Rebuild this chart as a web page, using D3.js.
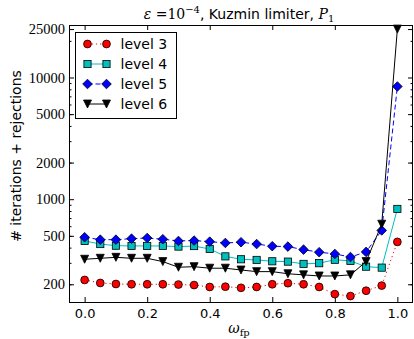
<!DOCTYPE html>
<html>
<head>
<meta charset="utf-8">
<script src="https://cdn.jsdelivr.net/npm/d3@7"></script>
<style>
  body { margin: 0; background: #fff; }
  svg { display: block; }
</style>
</head>
<body>
<svg id="chart" width="414" height="339"></svg>
<script>
// Relaxation parameter values on the x axis
const omega = [0.00, 0.05, 0.10, 0.15, 0.20, 0.25, 0.30, 0.35, 0.40, 0.45, 0.50,
               0.55, 0.60, 0.65, 0.70, 0.75, 0.80, 0.85, 0.90, 0.95, 1.00];

// Iterations + rejections per refinement level
const level3 = [217, 205, 201, 200, 200, 200, 199, 197, 190, 191, 187,
                190, 200, 204, 200, 190, 166, 160, 177, 195, 446];
const level4 = [454, 428, 415, 413, 413, 413, 408, 412, 390, 339, 321,
                317, 309, 307, 294, 298, 318, 311, 279, 274, 832];
const level5 = [487, 465, 465, 474, 480, 469, 454, 457, 448, 437, 443,
                428, 411, 408, 385, 367, 355, 335, 369, 554, 8435];
const level6 = [321, 327, 333, 327, 327, 307, 276, 279, 271, 271, 262,
                254, 254, 244, 239, 234, 234, 239, 307, 623, 25000];

const seriesNames = ["level 3", "level 4", "level 5", "level 6"];
const yTickValues = [200, 500, 1000, 2000, 5000, 10000, 25000];
const xTickValues = [0.0, 0.2, 0.4, 0.6, 0.8, 1.0];

const svg = d3.select("#chart");
const plot = { left: 69, right: 413, top: 25, bottom: 302 };

const x = d3.scaleLinear().domain([-0.05, 1.05]).range([plot.left, plot.right]);
const y = d3.scaleLog().domain([143, 27000]).range([plot.bottom, plot.top]);

// Minor log ticks: 2..9 x 10^k inside the domain
const minorTicks = [];
[100, 1000, 10000].forEach(base => {
  for (let m = 2; m <= 9; m++) {
    const v = m * base;
    if (v >= y.domain()[0] && v <= y.domain()[1]) minorTicks.push(v);
  }
});

const serif = "'DejaVu Serif', 'Liberation Serif', serif";
const sans = "'DejaVu Sans', sans-serif";

// ---- axes (ticks point inward, as in the classic style) ----
function styleAxis(g) {
  g.select(".domain").remove();
  g.selectAll(".tick line").attr("stroke", "#000").attr("stroke-width", 1);
}

svg.append("g")
  .attr("transform", `translate(${plot.left},0)`)
  .call(d3.axisLeft(y).tickValues(yTickValues).tickFormat(d3.format("d"))
    .tickSizeInner(-5).tickSizeOuter(0).tickPadding(4))
  .call(styleAxis)
  .selectAll("text")
  .attr("font-family", "'Liberation Serif', serif")
  .attr("font-size", 14.5)
  .attr("fill", "#000");

svg.append("g")
  .attr("transform", `translate(${plot.left},0)`)
  .call(d3.axisLeft(y).tickValues(minorTicks).tickFormat("")
    .tickSizeInner(-2.5).tickSizeOuter(0))
  .call(styleAxis);

svg.append("g")
  .attr("transform", `translate(${plot.right},0)`)
  .call(d3.axisRight(y).tickValues(yTickValues).tickFormat("")
    .tickSizeInner(-5).tickSizeOuter(0))
  .call(styleAxis);

svg.append("g")
  .attr("transform", `translate(${plot.right},0)`)
  .call(d3.axisRight(y).tickValues(minorTicks).tickFormat("")
    .tickSizeInner(-2.5).tickSizeOuter(0))
  .call(styleAxis);

svg.append("g")
  .attr("transform", `translate(0,${plot.bottom})`)
  .call(d3.axisBottom(x).tickValues(xTickValues).tickFormat(d3.format(".1f"))
    .tickSizeInner(-5).tickSizeOuter(0).tickPadding(7))
  .call(styleAxis)
  .selectAll("text")
  .attr("font-family", sans)
  .attr("font-size", 13)
  .attr("fill", "#000");

svg.append("g")
  .attr("transform", `translate(0,${plot.top})`)
  .call(d3.axisTop(x).tickValues(xTickValues).tickFormat("")
    .tickSizeInner(-5).tickSizeOuter(0))
  .call(styleAxis);

// ---- series ----
const triDown = "M0,4L-4,-4L4,-4Z";
const series = [
  { name: seriesNames[0], values: level3, color: "#ff0000", dash: "1.2,3", marker: "circle" },
  { name: seriesNames[1], values: level4, color: "#00bfbf", dash: null, marker: "square" },
  { name: seriesNames[2], values: level5, color: "#0000ff", dash: "5,3", marker: "diamond" },
  { name: seriesNames[3], values: level6, color: "#000000", dash: null, marker: "triangle" }
];

function drawMarker(g, type, color) {
  if (type === "circle") {
    g.append("circle").attr("r", 3.9);
  } else if (type === "square") {
    g.append("rect").attr("x", -3.6).attr("y", -3.6).attr("width", 7.2).attr("height", 7.2);
  } else if (type === "diamond") {
    g.append("path").attr("d", "M0,-4.8L4.8,0L0,4.8L-4.8,0Z");
  } else {
    g.append("path").attr("d", triDown);
  }
  g.selectAll("*").attr("fill", color).attr("stroke", "#000").attr("stroke-width", 0.8);
}

const line = d3.line().x(d => x(d[0])).y(d => y(d[1]));

series.forEach(s => {
  const pts = omega.map((o, i) => [o, s.values[i]]);
  const g = svg.append("g");
  g.append("path")
    .attr("d", line(pts))
    .attr("fill", "none")
    .attr("stroke", s.color)
    .attr("stroke-width", 1)
    .attr("stroke-dasharray", s.dash);
  pts.forEach(p => {
    const m = g.append("g").attr("transform", `translate(${x(p[0])},${y(p[1])})`);
    drawMarker(m, s.marker, s.color);
  });
});

// ---- frame ----
svg.append("rect")
  .attr("x", plot.left + 0.5).attr("y", plot.top + 0.5)
  .attr("width", plot.right - plot.left - 1).attr("height", plot.bottom - plot.top)
  .attr("fill", "none").attr("stroke", "#000").attr("stroke-width", 1);

// ---- legend ----
const legend = svg.append("g").attr("transform", "translate(75.5,32.5)");
legend.append("rect").attr("width", 101).attr("height", 86)
  .attr("fill", "#fff").attr("stroke", "#000").attr("stroke-width", 1);
series.forEach((s, i) => {
  const cy = 11.5 + i * 20;
  const row = legend.append("g").attr("transform", `translate(0,${cy})`);
  row.append("line").attr("x1", 12).attr("x2", 31)
    .attr("stroke", s.color).attr("stroke-width", 1).attr("stroke-dasharray", s.dash);
  [12, 31].forEach(mx => drawMarker(row.append("g").attr("transform", `translate(${mx},0)`), s.marker, s.color));
  row.append("text").attr("x", 45).attr("y", 5)
    .attr("font-family", sans).attr("font-size", 14).attr("fill", "#000")
    .text(s.name);
});

// ---- title ----
const title = svg.append("text")
  .attr("x", 239).attr("y", 19)
  .attr("text-anchor", "middle")
  .attr("font-size", 14).attr("fill", "#000");
title.append("tspan").attr("font-family", serif).attr("font-style", "italic").text("ε");
title.append("tspan").attr("font-family", serif).text(" =10");
title.append("tspan").attr("font-family", serif).attr("font-size", 10).attr("dy", -6).text("−4");
title.append("tspan").attr("font-family", sans).attr("dy", 6).text(", Kuzmin limiter, ");
title.append("tspan").attr("font-family", serif).attr("font-style", "italic").text("P");
title.append("tspan").attr("font-family", serif).attr("font-size", 10).attr("dy", 3).text("1");

// ---- axis labels ----
const xl = svg.append("text")
  .attr("x", 239).attr("y", 333)
  .attr("text-anchor", "middle").attr("font-size", 14).attr("fill", "#000");
xl.append("tspan").attr("font-family", serif).attr("font-style", "italic").text("ω");
xl.append("tspan").attr("font-family", serif).attr("font-size", 10).attr("dy", 3).text("fp");

svg.append("text")
  .attr("transform", "translate(21,156) rotate(-90)")
  .attr("text-anchor", "middle")
  .attr("font-family", sans).attr("font-size", 14).attr("fill", "#000")
  .text("# iterations + rejections");
</script>
</body>
</html>
